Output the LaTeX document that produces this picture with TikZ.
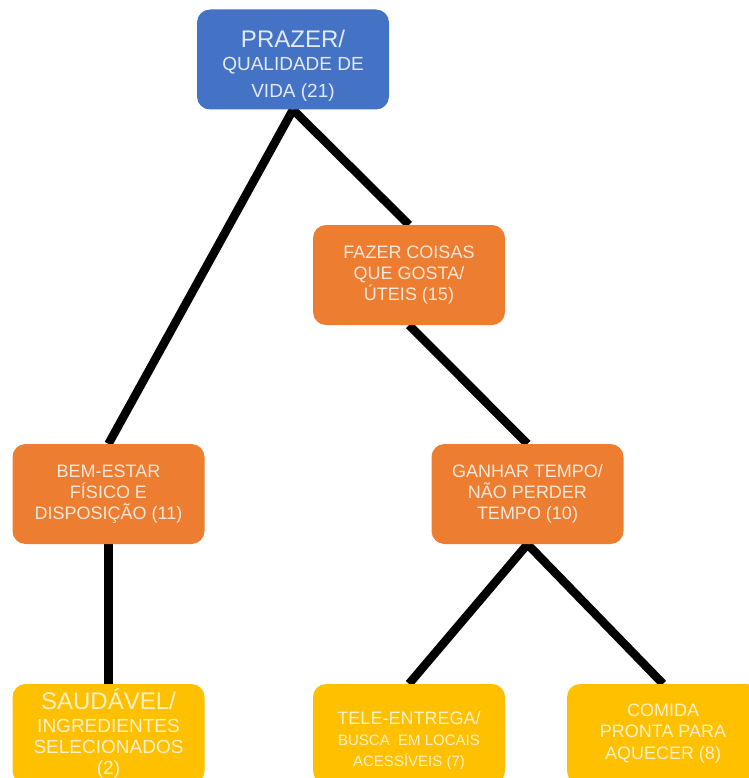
\documentclass[tikz,border=0pt]{standalone}
\usepackage{fontspec}
\setmainfont{Liberation Sans}
\usepackage{tikz}
\usepackage{xcolor}
\usetikzlibrary{backgrounds}
\definecolor{boxBlue}{HTML}{4472C4}
\definecolor{boxOrange}{HTML}{ED7D31}
\definecolor{boxYellow}{HTML}{FFC000}

\begin{document}
\begin{tikzpicture}[x=1pt, y=-1pt,
      box/.style={rounded corners=13pt, minimum width=192pt, minimum height=100pt,
                  inner sep=0pt, align=center, font=\fontsize{18}{21}\selectfont},
      blue box/.style={box, fill=boxBlue, text=white!85!boxBlue},
      orange box/.style={box, fill=boxOrange, text=white!82!boxOrange},
      yellow box/.style={box, fill=boxYellow, text=white!78!boxYellow},
      link/.style={line width=8.5pt, black}]
      \useasboundingbox (0,0) rectangle (748,778);

      \node[blue box] (pz) at (293,59.5)
        {\rule{0pt}{30pt}{\fontsize{24}{24}\selectfont PRAZER/}\\[2pt]
         {\fontsize{19}{23}\selectfont QUALIDADE DE}\\[6pt]
         {\fontsize{19}{23}\selectfont VIDA (21)}};
      \node[orange box] (fc) at (409,275) {FAZER COISAS\\QUE GOSTA/\\ÚTEIS (15)};
      \node[orange box] (be) at (108.5,494) {BEM-ESTAR\\FÍSICO E\\DISPOSIÇÃO (11)};
      \node[orange box] (gt) at (527.5,494) {GANHAR TEMPO/\\NÃO PERDER\\TEMPO (10)};
      \node[yellow box] (sd) at (108.5,734)
        {{\fontsize{24}{24}\selectfont SAUDÁVEL/}\\[2pt]
         {\fontsize{19}{22}\selectfont INGREDIENTES}\\
         {\fontsize{19}{22}\selectfont SELECIONADOS}\\
         {\fontsize{19}{22}\selectfont (2)}};
      \node[yellow box] (te) at (409,734)
        {\rule{0pt}{26pt}TELE-ENTREGA/\\
         {\fontsize{15}{19}\selectfont BUSCA\ \ EM LOCAIS}\\
         {\fontsize{15}{19}\selectfont ACESSÍVEIS (7)}};
      \node[yellow box] (cp) at (663,734) {COMIDA\\PRONTA PARA\\[1pt]AQUECER (8)};

      \begin{scope}[on background layer]
        \draw[link] (pz.south) -- (be.north);
        \draw[link] (pz.south) -- (fc.north);
        \draw[link] (fc.south) -- (gt.north);
        \draw[link] (be.south) -- (sd.north);
        \draw[link] (gt.south) -- (te.north);
        \draw[link] (gt.south) -- (cp.north);
      \end{scope}
    \end{tikzpicture}
\end{document}
